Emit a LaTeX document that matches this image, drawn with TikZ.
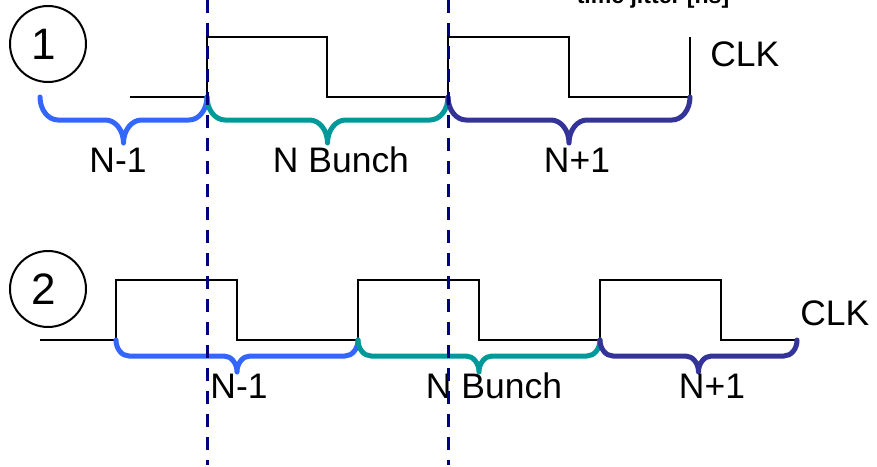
\documentclass[tikz,border=0pt]{standalone}
\usepackage{fontspec}
\setmainfont{Liberation Sans}
\definecolor{bblue}{RGB}{51,102,255}
\definecolor{bteal}{RGB}{0,153,153}
\definecolor{bnavy}{RGB}{51,51,153}
\definecolor{dnavy}{RGB}{0,0,128}
\newcommand\mybrace[6]{% x1, x2, y0, dy, r, colour
  \pgfmathsetmacro\bxm{(#1+#2)/2}%
  \pgfmathsetmacro\bya{#3+#4}%
  \pgfmathsetmacro\byb{#3+2*#4}%
  \pgfmathsetmacro\byc{#3+0.552*#4}%
  \pgfmathsetmacro\byd{#3+1.448*#4}%
  \pgfmathsetmacro\bk{0.448*#5}%
  \draw[bracestyle,#6] (#1,#3) .. controls (#1,\byc) and (#1+\bk,\bya) .. (#1+#5,\bya)
    -- (\bxm-#5,\bya) .. controls (\bxm-\bk,\bya) and (\bxm,\byd) .. (\bxm,\byb)
    .. controls (\bxm,\byd) and (\bxm+\bk,\bya) .. (\bxm+#5,\bya)
    -- (#2-#5,\bya) .. controls (#2-\bk,\bya) and (#2,\byc) .. (#2,#3);%
}
\begin{document}
\begin{tikzpicture}[x=0.75pt,y=-0.75pt,
  signal/.style={draw=black,line width=1.5pt,line join=miter},
  bracestyle/.style={line width=3.75pt,line cap=round,line join=round},
  marker/.style={dnavy,line width=2.25pt,dash pattern=on 9.75pt off 7.5pt},
  lbl/.style={font=\fontsize{26.6}{30}\selectfont,inner sep=0pt,anchor=base},
  num/.style={draw=black,line width=1.5pt,circle,minimum size=57pt,inner sep=0pt,font=\fontsize{33}{36}\selectfont}]
\useasboundingbox (0,0) rectangle (877,467);
\clip (0,0) rectangle (877,467);
\fill[white] (0,0) rectangle (877,467);

% title (cut off at top)
\node[inner sep=0pt,anchor=base,font=\bfseries\fontsize{17.3}{20}\selectfont] (title) at (653,4) {time jitter [ns]};

% circled numbers
\node[num] (c1) at (48,44) {\kern-7pt 1};
\node[num] (c2) at (48,289) {\kern-7pt 2};

% clock 1
\draw[signal] (130,97) -- (207,97) -- (207,37) -- (327,37) -- (327,97) -- (448,97) -- (448,37)
  -- (569,37) -- (569,97) -- (690,97) -- (690,37);
\node[lbl,anchor=base west] (clk1) at (710,66) {CLK};

% clock 2
\draw[signal] (40,340) -- (116,340) -- (116,280) -- (237,280) -- (237,340) -- (358,340) -- (358,280)
  -- (479,280) -- (479,340) -- (600,340) -- (600,280) -- (721,280) -- (721,340) -- (797,340);
\node[lbl,anchor=base west] (clk2) at (800,325) {CLK};

% braces 1
\mybrace{40}{207}{97}{23}{18}{bblue}
\mybrace{207}{448}{97}{23}{18}{bteal}
\mybrace{448}{690}{97}{23}{18}{bnavy}
% braces 2
\mybrace{116}{358}{340}{16}{13}{bblue}
\mybrace{358}{600}{340}{16}{13}{bteal}
\mybrace{600}{797}{340}{16}{13}{bnavy}

% labels
\node[lbl] (l1a) at (118,172) {N-1};
\node[lbl] (l1b) at (341,172) {N Bunch};
\node[lbl] (l1c) at (577,172) {N+1};
\node[lbl] (l2a) at (239,398) {N-1};
\node[lbl] (l2b) at (494,398) {N Bunch};
\node[lbl] (l2c) at (712,398) {N+1};

% dashed markers
\coordinate (m1t) at (207,0);
\coordinate (m1b) at (207,465);
\coordinate (m2t) at (448,0);
\coordinate (m2b) at (448,465);
\draw[marker] (m1t) -- (m1b);
\draw[marker] (m2t) -- (m2b);
\end{tikzpicture}
\end{document}
